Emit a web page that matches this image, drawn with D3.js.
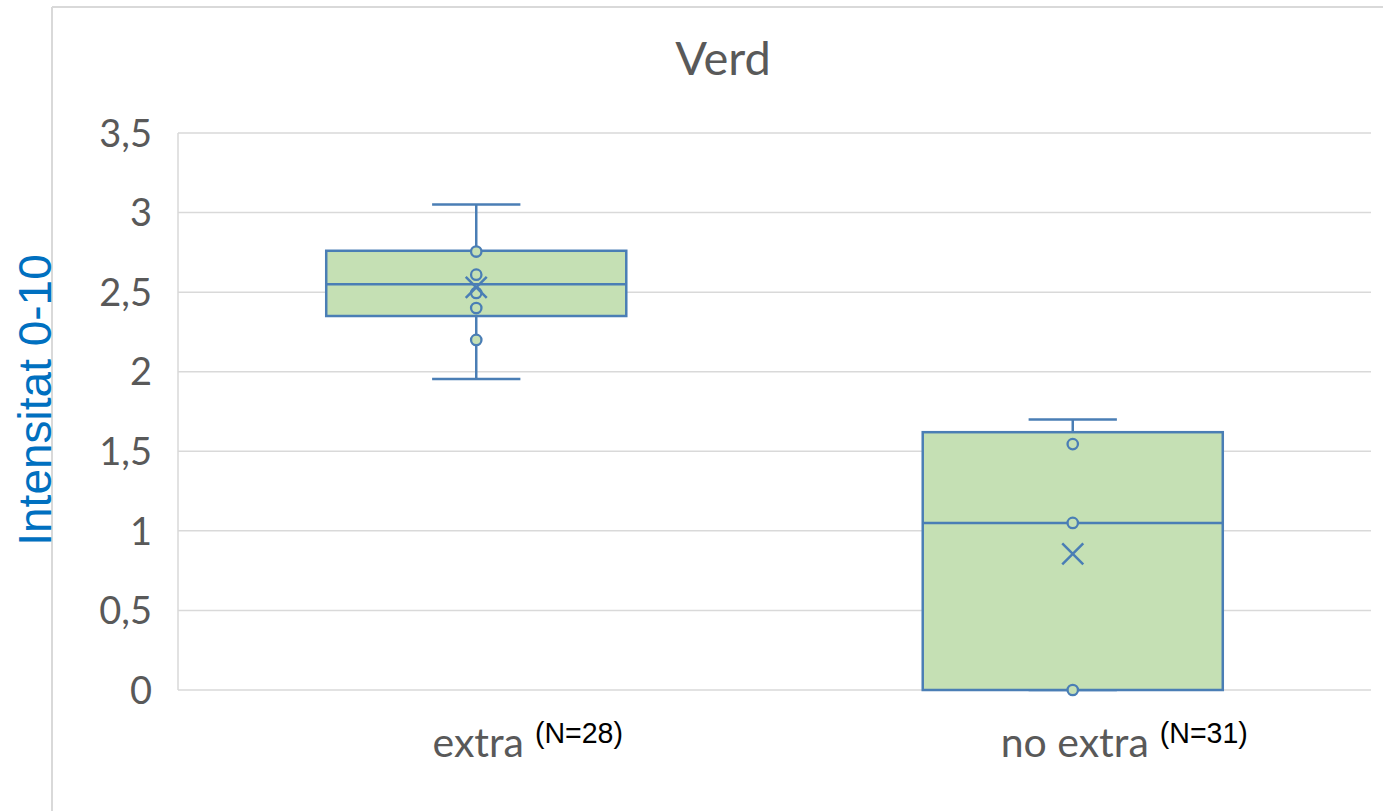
<!DOCTYPE html>
<html><head><meta charset="utf-8">
<script src="https://cdn.jsdelivr.net/npm/d3@7"></script>
<style>html,body{margin:0;padding:0;background:#fff;overflow:hidden}</style>
</head><body>
<svg id="chart" width="1383" height="811"></svg>
<script>
const categories = ["extra", "no extra"];
const nLabels = ["(N=28)", "(N=31)"];
const q1 = [2.35, 0];
const medians = [2.55, 1.05];
const q3 = [2.76, 1.62];
const whiskerLow = [1.955, 0];
const whiskerHigh = [3.05, 1.70];
const means = [2.53, 0.855];
const points = [[2.755, 2.61, 2.495, 2.40, 2.20], [1.545, 1.05, 0]];
const yTicks = [0, 0.5, 1, 1.5, 2, 2.5, 3, 3.5];
const title = "Verd";
const yTitle = "Intensitat 0-10";

(function () {
const svg = d3.select("#chart");
const pLeft = 178, pRight = 1371, pTop = 133, pBottom = 690;
const strokeC = "#4A7EB5", fillC = "#C5E0B4", grid = "#d9d9d9", txt = "#595959";

// outer chart border
svg.append("line").attr("x1", 52).attr("x2", 52).attr("y1", 7).attr("y2", 811).attr("stroke", grid).attr("stroke-width", 2);
svg.append("line").attr("x1", 52).attr("x2", 1383).attr("y1", 7).attr("y2", 7).attr("stroke", grid).attr("stroke-width", 2);

const y = d3.scaleLinear().domain([0, 3.5]).range([pBottom, pTop]);
const x = d3.scaleBand().domain(categories).range([pLeft, pRight]);
const bw = x.bandwidth();

// gridlines
svg.append("g").selectAll("line").data(yTicks).join("line")
  .attr("x1", pLeft).attr("x2", pRight).attr("y1", d => y(d)).attr("y2", d => y(d))
  .attr("stroke", grid).attr("stroke-width", 1.5);
svg.append("line").attr("x1", pLeft).attr("x2", pLeft).attr("y1", pTop).attr("y2", pBottom).attr("stroke", grid).attr("stroke-width", 1.5);

// y axis labels
const fmt = d => String(d).replace(".", ",");
svg.append("g").selectAll("text").data(yTicks).join("text")
  .attr("x", 152).attr("y", d => y(d)).attr("dy", "0.36em")
  .attr("text-anchor", "end").attr("fill", txt)
  .style("font-family", "Lato, 'Open Sans', sans-serif").style("font-size", "38px")
  .text(fmt);

// title
svg.append("text").attr("x", 723).attr("y", 75).attr("text-anchor", "middle").attr("fill", txt)
  .style("font-family", "Lato, 'Open Sans', sans-serif").style("font-size", "47px").text(title);

// y title
svg.append("text").attr("transform", "translate(51,400) rotate(-90)").attr("text-anchor", "middle")
  .attr("fill", "#0070C0").style("font-family", "'Liberation Sans', Arial, sans-serif").style("font-size", "46px")
  .text(yTitle);

// boxes
const boxW = bw * 0.503, capW = bw * 0.148;
categories.forEach((c, i) => {
  const cx = x(c) + bw / 2;
  const g = svg.append("g");
  const ln = (x1, x2, y1, y2) => g.append("line").attr("x1", x1).attr("x2", x2).attr("y1", y1).attr("y2", y2)
    .attr("stroke", strokeC).attr("stroke-width", 2.5);
  ln(cx, cx, y(whiskerHigh[i]), y(q3[i]));
  ln(cx, cx, y(q1[i]), y(whiskerLow[i]));
  ln(cx - capW / 2, cx + capW / 2, y(whiskerHigh[i]), y(whiskerHigh[i]));
  ln(cx - capW / 2, cx + capW / 2, y(whiskerLow[i]), y(whiskerLow[i]));
  g.append("rect").attr("x", cx - boxW / 2).attr("width", boxW).attr("y", y(q3[i])).attr("height", y(q1[i]) - y(q3[i]))
    .attr("fill", fillC).attr("stroke", strokeC).attr("stroke-width", 2.5);
  ln(cx - boxW / 2, cx + boxW / 2, y(medians[i]), y(medians[i]));
  g.selectAll("circle").data(points[i]).join("circle")
    .attr("cx", cx).attr("cy", d => y(d)).attr("r", 5.2)
    .attr("fill", fillC).attr("stroke", strokeC).attr("stroke-width", 2.3);
  const my = y(means[i]), s = 10.5;
  g.append("path").attr("d", `M${cx - s},${my - s}L${cx + s},${my + s}M${cx - s},${my + s}L${cx + s},${my - s}`)
    .attr("stroke", strokeC).attr("stroke-width", 2.5).attr("fill", "none");
  const t = g.append("text").attr("x", cx + 2).attr("y", 757).attr("text-anchor", "middle").attr("fill", txt)
    .style("font-family", "Lato, 'Open Sans', sans-serif").style("font-size", "41px").text(c);
  const bb = t.node().getBBox();
  g.append("text").attr("x", bb.x + bb.width + 11).attr("y", 743).attr("fill", "#000")
    .attr("textLength", 88).attr("lengthAdjust", "spacingAndGlyphs")
    .style("font-family", "'Liberation Sans', Arial, sans-serif").style("font-size", "30px")
    .text(nLabels[i]);
});
})();
</script>
</body></html>
